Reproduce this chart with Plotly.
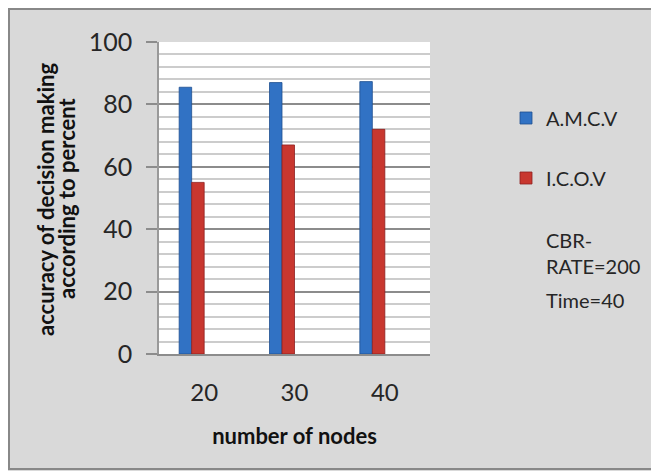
import plotly.graph_objects as go

# ---- data ----
categories = ["20", "30", "40"]
series_names = ["A.M.C.V", "I.C.O.V", "CBR-RATE=200", "Time=40"]
amcv = [85.5, 87, 87.3]
icov = [55, 67, 72]
cbr_rate = [None, None, None]
time_vals = [None, None, None]
y_ticks = [0, 20, 40, 60, 80, 100]

# The page body has an 8px margin, so the figure starts at (8, 8) of the window.
OFF = 8
W, H = 659 - OFF, 471 - OFF
L, T = 159 - OFF, 42 - OFF
R, B = 229, 117
PW, PH = W - L - R, H - T - B

def px_x(px):  # px given in window (reference) coordinates
    return (px - OFF - L) / PW

def px_y(py):
    return (H - B - (py - OFF)) / PH

FONT = "Lato, 'Open Sans', sans-serif"
TXT = "#262626"

fig = go.Figure()
fig.add_trace(go.Bar(x=categories, y=amcv, name=series_names[0],
                     marker=dict(color="#3172c4", line=dict(color="#1f4f8f", width=0.8)),
                     legend="legend"))
fig.add_trace(go.Bar(x=categories, y=icov, name=series_names[1],
                     marker=dict(color="#c8372f", line=dict(color="#8e1f1f", width=0.8)),
                     legend="legend2"))
fig.add_trace(go.Bar(x=categories, y=cbr_rate, name="CBR-<br>RATE=200",
                     marker=dict(color="rgba(0,0,0,0)", line=dict(width=0)),
                     legend="legend3"))
fig.add_trace(go.Bar(x=categories, y=time_vals, name=series_names[3],
                     marker=dict(color="rgba(0,0,0,0)", line=dict(width=0)),
                     legend="legend4"))

leg_x = px_x(506)
leg_common = dict(xanchor="left", yanchor="middle", bgcolor="rgba(0,0,0,0)",
                  borderwidth=0, font=dict(family=FONT, size=20, color=TXT))

fig.update_layout(
    width=W, height=H,
    margin=dict(l=L, r=R, t=T, b=B, pad=0),
    paper_bgcolor="#d9d9d9",
    plot_bgcolor="white",
    showlegend=True,
    barmode="group",
    bargap=0.4465,
    bargroupgap=0,
    font=dict(family=FONT, color=TXT),
    legend=dict(x=leg_x, y=px_y(118), **leg_common),
    legend2=dict(x=leg_x, y=px_y(178), **leg_common),
    legend3=dict(x=leg_x, y=px_y(253), **leg_common),
    legend4=dict(x=leg_x, y=px_y(300), **leg_common),
    xaxis=dict(
        type="category",
        showline=True, linecolor="#8c8c8c", linewidth=1.5,
        showgrid=False, ticks="",
        tickfont=dict(family=FONT, size=24, color=TXT),
        ticklabelstandoff=16,
        title=dict(text="<b>number of nodes</b>",
                   font=dict(family=FONT, size=22, color="#111"),
                   standoff=24),
    ),
    yaxis=dict(
        range=[0, 100],
        tickvals=y_ticks,
        showline=True, linecolor="#999999", linewidth=1.5,
        ticks="outside", ticklen=11, tickcolor="#8c8c8c", tickwidth=1.5,
        tickfont=dict(family=FONT, size=25, color=TXT),
        ticklabelstandoff=9,
        showgrid=True, gridcolor="#8c8c8c", gridwidth=1.5,
        minor=dict(dtick=4, showgrid=True, gridcolor="#cccccc", gridwidth=1.5, ticks=""),
        zeroline=False,
    ),
    shapes=[
        dict(type="rect", xref="paper", yref="paper", layer="below",
             x0=px_x(9), x1=px_x(680), y0=px_y(469), y1=px_y(9),
             fillcolor="rgba(0,0,0,0)", line=dict(color="#888888", width=2)),
    ],
    annotations=[
        dict(text="<b>accuracy of decision making</b>", textangle=-90,
             xref="paper", yref="paper", x=px_x(45), y=px_y(200),
             xanchor="center", yanchor="middle", showarrow=False,
             font=dict(family=FONT, size=22, color="#111")),
        dict(text="<b>according to percent</b>", textangle=-90,
             xref="paper", yref="paper", x=px_x(66), y=px_y(198),
             xanchor="center", yanchor="middle", showarrow=False,
             font=dict(family=FONT, size=22, color="#111")),
    ],
)

fig.write_html("out.html")
